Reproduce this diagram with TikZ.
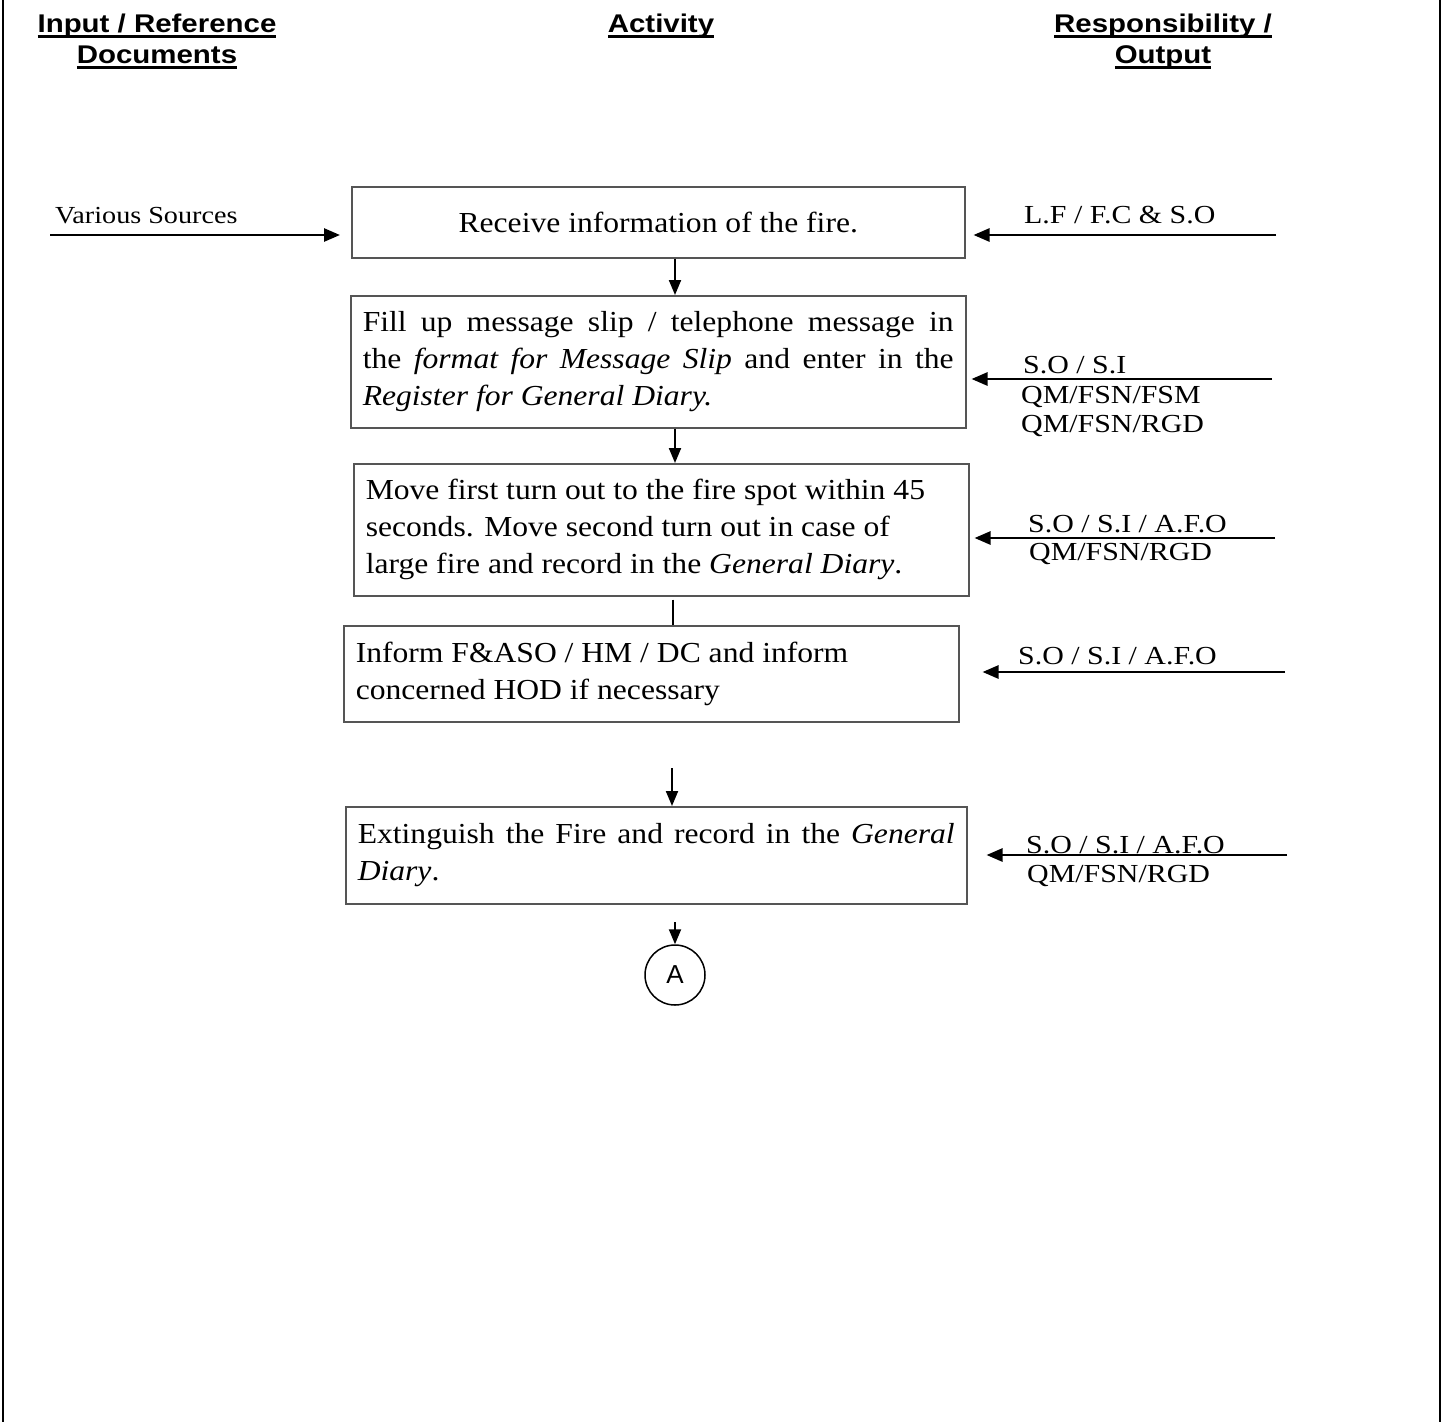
\documentclass[tikz,border=0pt]{standalone}
\usepackage{fontspec}
\setmainfont{Liberation Serif}[FakeStretch=1.15]
\setsansfont{Liberation Sans}[FakeStretch=1.15]
\newfontfamily\boxfont{Liberation Serif}[FakeStretch=1.09]
\newfontfamily\circfont{Liberation Sans}
\usetikzlibrary{arrows.meta,calc}
\definecolor{boxgray}{RGB}{85,85,85}
\newcommand\hdul[1]{\setbox0\hbox{#1}\rlap{\rule[-6pt]{\wd0}{2.6pt}}\box0}
\newcommand\jline[2]{\leavevmode\hbox to #1{\spaceskip=0pt\xspaceskip=0pt #2}}
\tikzset{
  box/.style={draw=boxgray, line width=1.5pt, rectangle, inner xsep=12pt, inner ysep=0pt,
    font=\boxfont\fontsize{29}{37}\selectfont, anchor=north west, align=flush left},
  hdr/.style={font=\fontsize{25.6}{31}\selectfont\sffamily\bfseries, anchor=base, inner sep=0pt},
  lbl/.style={font=\fontsize{26}{30}\selectfont, anchor=base west, inner sep=0pt},
  srcl/.style={font=\fontsize{24.5}{30}\selectfont, anchor=base west, inner sep=0pt},
  sidearrow/.style={line width=2.6pt, -{Triangle[length=16pt,width=13pt]}},
  varrow/.style={line width=2pt, -{Triangle[length=15pt,width=12pt]}},
  vline/.style={line width=2pt},
  framel/.style={line width=1.5pt}
}
\begin{document}
\begin{tikzpicture}[x=1pt,y=-1pt]
\useasboundingbox (0,0) rectangle (1444,1422);
% frame
\draw[framel] (3,0) -- (3,1422);
\draw[framel] (1440,0) -- (1440,1422);
% headers
\node[hdr] (h1a) at (157,32) {\hdul{Input / Reference}};
\node[hdr] (h1b) at (157,63) {\hdul{Documents}};
\node[hdr] (h2) at (661,32) {\hdul{Activity}};
\node[hdr] (h3a) at (1163,32) {\hdul{Responsibility /}};
\node[hdr] (h3b) at (1163,63) {\hdul{Output}};
% boxes
\node[box, text width=589pt, minimum height=71pt, align=flush center] (b1) at (351,186)
  {Receive information of the fire.};
\node[box, text width=591pt, minimum height=132pt] (b2) at (350,295)
  {\jline{591pt}{Fill up message slip / telephone message in}\\
   \jline{591pt}{the \textit{format for Message Slip} and enter in the}\\
   \textit{Register for General Diary.}};
\node[box, text width=591pt, minimum height=132pt] (b3) at (353,463)
  {Move first turn out to the fire spot within 45\\
   seconds. Move second turn out in case of\\
   large fire and record in the \textit{General Diary}.};
\node[box, text width=591pt, minimum height=96pt] (b4) at (343,625)
  {Inform F\&ASO / HM / DC and inform\\
   concerned HOD if necessary};
\node[box, text width=597pt, minimum height=97pt] (b5) at (345,806)
  {\jline{597pt}{Extinguish the Fire and record in the \textit{General}}\\
   \textit{Diary}.};
\node[circle, draw, line width=1.5pt, minimum size=60pt, inner sep=0pt,
  font=\circfont\fontsize{26}{30}\selectfont] (A) at (675,975) {A};
% vertical connectors
\coordinate (v1) at (675,0);
\coordinate (v3) at (673,0);
\draw[varrow] (v1 |- b1.south) -- (v1 |- b2.north);
\draw[varrow] (v1 |- b2.south) -- (v1 |- b3.north);
\draw[vline, shorten <=3pt] (v3 |- b3.south) -- (v3 |- b4.north);
\coordinate (s45) at (672,768);
\draw[varrow] (s45) -- (s45 |- b5.north);
\coordinate (s5A) at (675,922);
\draw[varrow] (s5A) -- (A.north);
% left input
\node[srcl] (src) at (55,223) {Various Sources};
\coordinate (vs) at (50,235);
\draw[sidearrow, shorten >=11pt] (vs) -- (vs -| b1.west);
% right responsibilities
\node[lbl] (l1) at (1024,223) {L.F / F.C \& S.O};
\coordinate (r1) at (1276,235);
\draw[sidearrow, shorten >=8pt] (r1) -- (r1 -| b1.east);

\node[lbl] (l2a) at (1023,373) {S.O / S.I};
\node[lbl] (l2b) at (1021,403) {QM/FSN/FSM};
\node[lbl] (l2c) at (1021,432) {QM/FSN/RGD};
\coordinate (r2) at (1272,379);
\draw[sidearrow, shorten >=5pt] (r2) -- (r2 -| b2.east);

\node[lbl] (l3a) at (1028,532) {S.O / S.I / A.F.O};
\node[lbl] (l3b) at (1029,560) {QM/FSN/RGD};
\coordinate (r3) at (1275,538);
\draw[sidearrow, shorten >=5pt] (r3) -- (r3 -| b3.east);

\node[lbl] (l4) at (1018,664) {S.O / S.I / A.F.O};
\coordinate (r4) at (1285,672);
\draw[sidearrow, shorten >=23pt] (r4) -- (r4 -| b4.east);

\node[lbl] (l5a) at (1026,853) {S.O / S.I / A.F.O};
\node[lbl] (l5b) at (1027,882) {QM/FSN/RGD};
\coordinate (r5) at (1287,855);
\draw[sidearrow, shorten >=19pt] (r5) -- (r5 -| b5.east);
\end{tikzpicture}
\end{document}
